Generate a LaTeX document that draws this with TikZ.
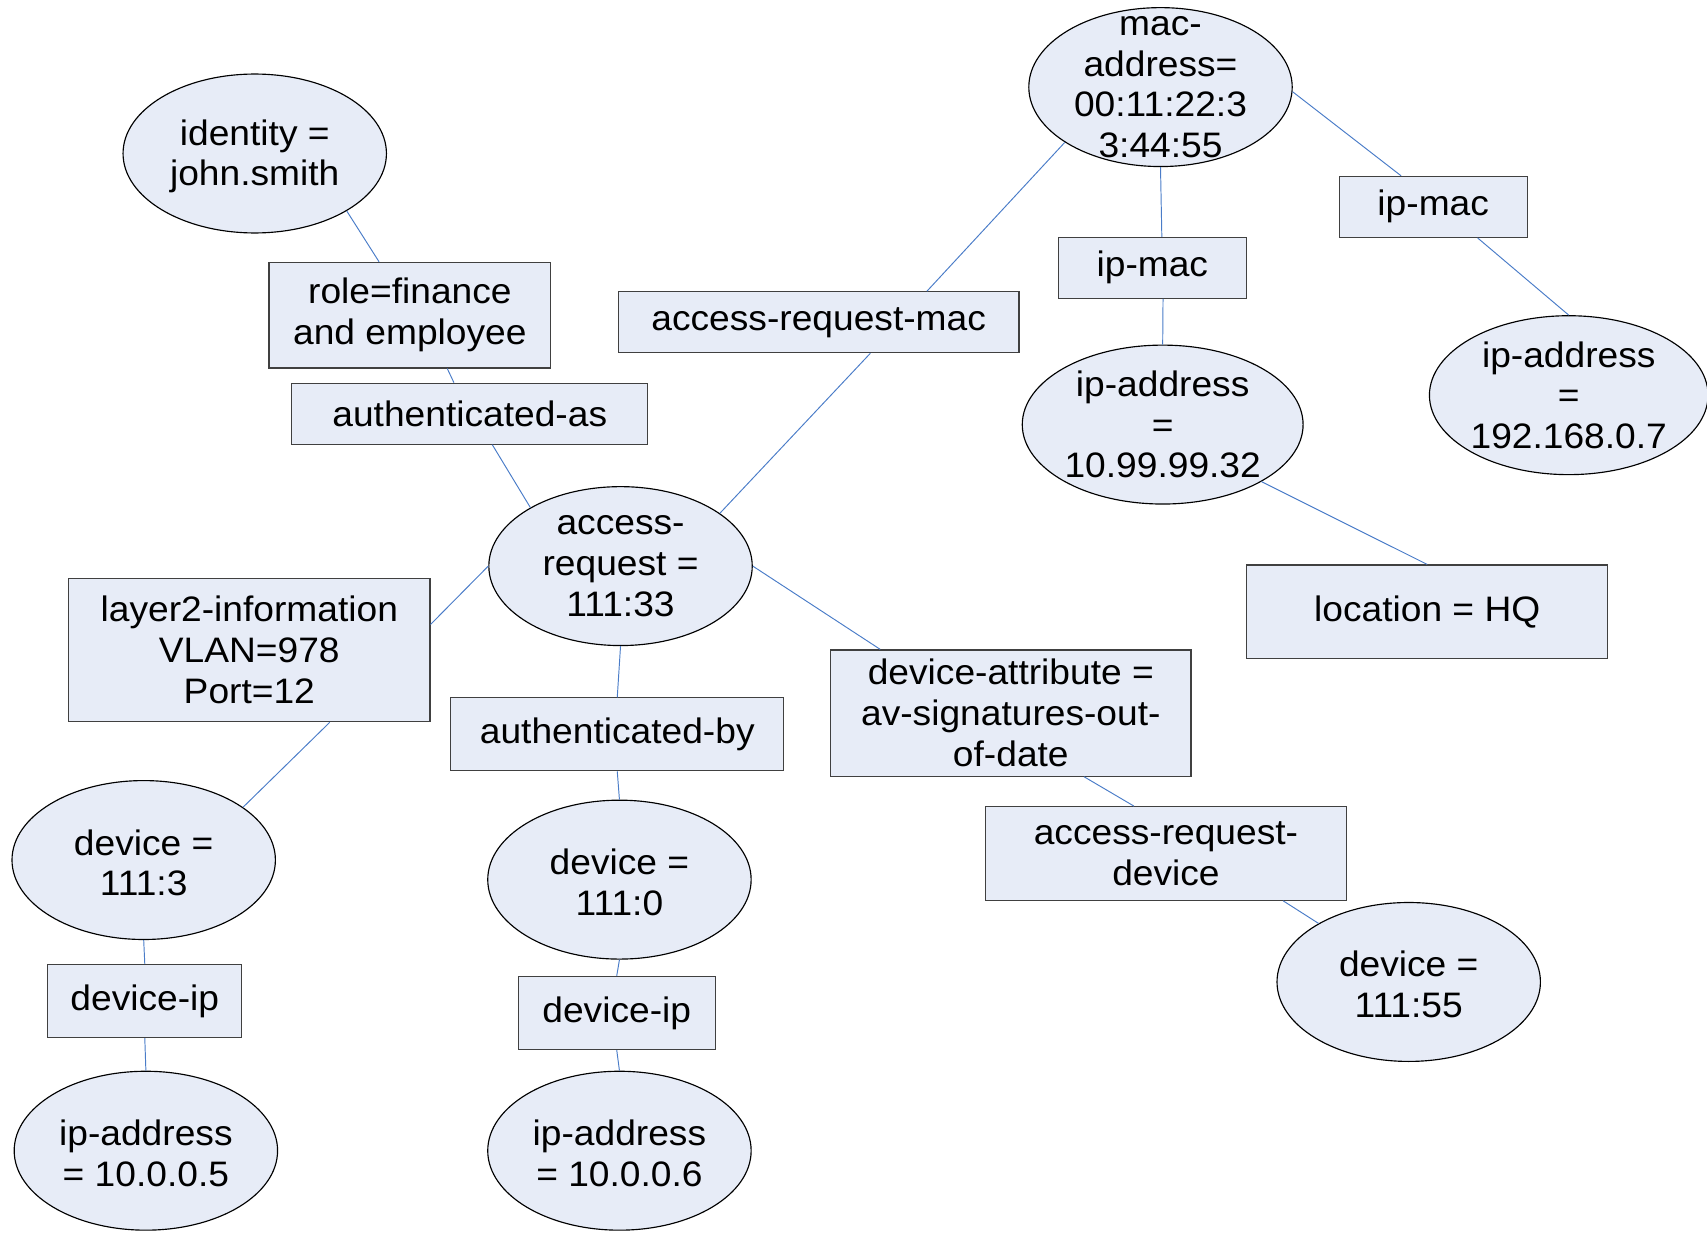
\documentclass[tikz,border=0pt]{standalone}
\usepackage{fontspec}
\setmainfont{Liberation Sans}[FakeStretch=1.05]
\usetikzlibrary{shapes.geometric}
\definecolor{boxfill}{HTML}{E7ECF7}
\definecolor{linkblue}{HTML}{4A7CC8}

\begin{document}
\begin{tikzpicture}[x=0.02cm, y=-0.02cm,
    txt/.style={font=\fontsize{18.5}{21.3}\selectfont, align=center},
    attr/.style={ellipse, draw=black, fill=boxfill, line width=0.6pt, minimum width=4.84cm, minimum height=2.92cm, inner sep=0pt},
    rel/.style={rectangle, draw=black!75, fill=boxfill, line width=0.6pt, inner sep=0pt, txt},
    link/.style={draw=linkblue, line width=0.5pt}]
    \useasboundingbox (0,0) rectangle (1568,1132);

    % attribute ellipses
    \node[attr, label={[txt, yshift=-0.05cm]center:{identity =\\john.smith}}] (identity) at (234,141) {};
    \node[attr, label={[txt]center:{mac-\\address=\\00:11:22:3\\3:44:55}}] (mac) at (1066,80) {};
    \node[attr, minimum width=5.16cm, label={[txt]center:{ip-address\\=\\10.99.99.32}}] (ipA) at (1068,390) {};
    \node[attr, minimum width=5.12cm, label={[txt]center:{ip-address\\=\\192.168.0.7}}] (ipB) at (1441,363) {};
    \node[attr, label={[txt]center:{access-\\request =\\111:33}}] (req) at (570,520) {};
    \node[attr, label={[txt, yshift=-0.05cm]center:{device =\\111:3}}] (devA) at (132,790) {};
    \node[attr, label={[txt, yshift=-0.05cm]center:{device =\\111:0}}] (devB) at (569,808) {};
    \node[attr, label={[txt, yshift=-0.05cm]center:{device =\\111:55}}] (devC) at (1294,902) {};
    \node[attr, label={[txt, yshift=-0.05cm]center:{ip-address\\= 10.0.0.5}}] (ipC) at (134,1057) {};
    \node[attr, label={[txt, yshift=-0.05cm]center:{ip-address\\= 10.0.0.6}}] (ipD) at (569,1057) {};

    % link boxes
    \node[rel, minimum width=5.18cm, minimum height=1.94cm] (role) at (376.5,289.5) {role=finance\\and employee};
    \node[rel, minimum width=6.54cm, minimum height=1.12cm] (authas) at (431.5,380) {authenticated-as};
    \node[rel, minimum width=7.36cm, minimum height=1.12cm] (reqmac) at (752,296) {access-request-mac};
    \node[rel, minimum width=3.46cm, minimum height=1.12cm] (ipmacA) at (1058.5,246) {ip-mac};
    \node[rel, minimum width=3.46cm, minimum height=1.12cm] (ipmacB) at (1316.5,190) {ip-mac};
    \node[rel, minimum width=6.64cm, minimum height=1.72cm] (location) at (1311,562) {location = HQ};
    \node[rel, minimum width=6.64cm, minimum height=2.64cm] (layer2) at (229,597) {layer2-information\\VLAN=978\\Port=12};
    \node[rel, minimum width=6.12cm, minimum height=1.34cm] (authby) at (567,674.5) {authenticated-by};
    \node[rel, minimum width=6.62cm, minimum height=2.32cm] (devattr) at (928.5,655) {device-attribute =\\av-signatures-out-\\of-date};
    \node[rel, minimum width=6.64cm, minimum height=1.72cm] (reqdev) at (1071,784) {access-request-\\device};
    \node[rel, minimum width=3.56cm, minimum height=1.34cm] (devipA) at (133,919.5) {device-ip};
    \node[rel, minimum width=3.62cm, minimum height=1.34cm] (devipB) at (566.5,930.5) {device-ip};

    % links
    \draw[link] (identity.-32) -- (role.120);
    \draw[link] (role.-55) -- (authas.117);
    \draw[link] (authas.-54) -- (req.147);
    \draw[link] (req.28) -- (reqmac.-31);
    \draw[link] (reqmac.16) -- (mac.210);
    \draw[link] (mac.south) -- (ipmacA.73);
    \draw[link] (ipmacA.-71) -- (ipA.north);
    \draw[link] (mac.-2) -- (ipmacB.136);
    \draw[link] (ipmacB.-35) -- (ipB.north);
    \draw[link] (ipA.-30) -- (location.north);
    \draw[link] (req.west) -- (layer2.8);
    \draw[link] (layer2.-42) -- (devA.28);
    \draw[link] (devA.south) -- (devipA.north);
    \draw[link] (devipA.south) -- (ipC.north);
    \draw[link] (req.south) -- (authby.north);
    \draw[link] (authby.south) -- (devB.north);
    \draw[link] (devB.south) -- (devipB.north);
    \draw[link] (devipB.south) -- (ipD.north);
    \draw[link] (req.east) -- (devattr.154);
    \draw[link] (devattr.-41) -- (reqdev.124);
    \draw[link] (reqdev.-22) -- (devC.147);
\end{tikzpicture}
\end{document}
